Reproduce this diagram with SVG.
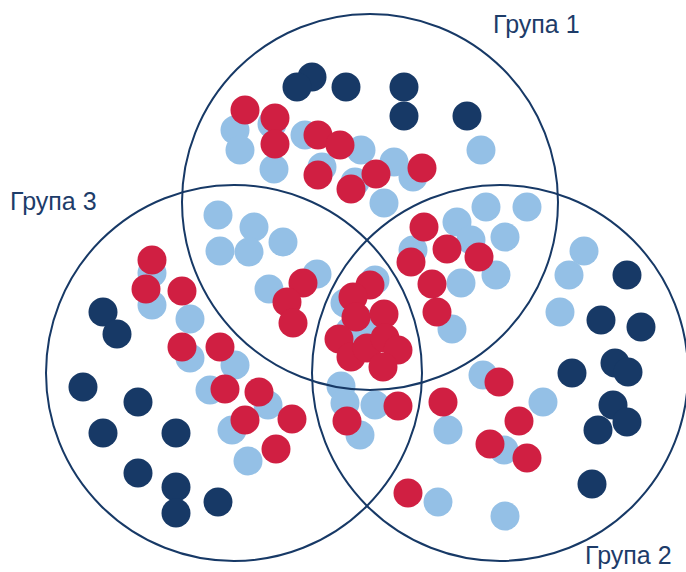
<svg xmlns="http://www.w3.org/2000/svg" width="686" height="572" viewBox="0 0 686 572">
  <style>
    .lb { fill: #94c0e6; }
    .nv { fill: #173966; }
    .rd { fill: #d01f42; }
    .ring { fill: none; stroke: #173966; stroke-width: 2; }
    .label { font-family: "Liberation Sans", Arial, sans-serif; font-size: 25px; fill: #1d3c69; }
  </style>
  <rect width="686" height="572" fill="#ffffff"/>

  <!-- light blue members -->
  <g id="light-dots" class="lb">
    <circle cx="235" cy="130" r="14.5"/><circle cx="240" cy="150" r="14.5"/><circle cx="272" cy="124" r="14.5"/>
    <circle cx="274" cy="169" r="14.5"/><circle cx="305" cy="135" r="14.5"/><circle cx="361" cy="150" r="14.5"/>
    <circle cx="322" cy="167" r="14.5"/><circle cx="394" cy="162" r="14.5"/><circle cx="413" cy="177" r="14.5"/>
    <circle cx="355" cy="182" r="14.5"/><circle cx="384" cy="203" r="14.5"/><circle cx="481" cy="150" r="14.5"/>
    <circle cx="218" cy="215" r="14.5"/><circle cx="254" cy="227" r="14.5"/><circle cx="220" cy="251" r="14.5"/>
    <circle cx="249" cy="252" r="14.5"/><circle cx="283" cy="242" r="14.5"/><circle cx="317" cy="274" r="14.5"/>
    <circle cx="269" cy="289" r="14.5"/>
    <circle cx="486" cy="207" r="14.5"/><circle cx="527" cy="207" r="14.5"/><circle cx="457" cy="222" r="14.5"/>
    <circle cx="471" cy="240" r="14.5"/><circle cx="505" cy="237" r="14.5"/><circle cx="413" cy="250" r="14.5"/>
    <circle cx="461" cy="283" r="14.5"/><circle cx="496" cy="275" r="14.5"/><circle cx="452" cy="329" r="14.5"/>
    <circle cx="584" cy="251" r="14.5"/><circle cx="569" cy="275" r="14.5"/><circle cx="560" cy="312" r="14.5"/>
    <circle cx="375" cy="280" r="14.5"/><circle cx="345" cy="303" r="14.5"/><circle cx="372" cy="324" r="14.5"/>
    <circle cx="350" cy="331" r="14.5"/><circle cx="341" cy="386" r="14.5"/><circle cx="345" cy="403" r="14.5"/>
    <circle cx="375" cy="405" r="14.5"/><circle cx="360" cy="435" r="14.5"/>
    <circle cx="152" cy="273" r="14.5"/><circle cx="152" cy="305" r="14.5"/><circle cx="190" cy="319" r="14.5"/>
    <circle cx="190" cy="358" r="14.5"/><circle cx="235" cy="365" r="14.5"/><circle cx="210" cy="390" r="14.5"/>
    <circle cx="232" cy="430" r="14.5"/><circle cx="268" cy="405" r="14.5"/><circle cx="248" cy="461" r="14.5"/>
    <circle cx="483" cy="375" r="14.5"/><circle cx="543" cy="402" r="14.5"/><circle cx="448" cy="430" r="14.5"/>
    <circle cx="504" cy="450" r="14.5"/><circle cx="438" cy="502" r="14.5"/><circle cx="505" cy="516" r="14.5"/>
  </g>

  <!-- dark blue members -->
  <g id="dark-dots" class="nv">
    <circle cx="312" cy="77" r="14.5"/><circle cx="297" cy="87" r="14.5"/><circle cx="346" cy="87" r="14.5"/>
    <circle cx="404" cy="87" r="14.5"/><circle cx="404" cy="116" r="14.5"/><circle cx="467" cy="116" r="14.5"/>
    <circle cx="103" cy="312" r="14.5"/><circle cx="117" cy="334" r="14.5"/>
    <circle cx="83" cy="387" r="14.5"/><circle cx="138" cy="402" r="14.5"/><circle cx="103" cy="433" r="14.5"/>
    <circle cx="176" cy="433" r="14.5"/><circle cx="138" cy="473" r="14.5"/><circle cx="176" cy="487" r="14.5"/>
    <circle cx="176" cy="513" r="14.5"/><circle cx="218" cy="502" r="14.5"/>
    <circle cx="627" cy="275" r="14.5"/><circle cx="601" cy="320" r="14.5"/><circle cx="641" cy="327" r="14.5"/>
    <circle cx="572" cy="373" r="14.5"/><circle cx="615" cy="363" r="14.5"/><circle cx="628" cy="372" r="14.5"/>
    <circle cx="613" cy="405" r="14.5"/><circle cx="627" cy="422" r="14.5"/><circle cx="598" cy="430" r="14.5"/>
    <circle cx="592" cy="484" r="14.5"/>
  </g>

  <!-- red members -->
  <g id="red-dots" class="rd">
    <circle cx="245" cy="110" r="14.5"/><circle cx="275" cy="118" r="14.5"/><circle cx="275" cy="144" r="14.5"/>
    <circle cx="318" cy="135" r="14.5"/><circle cx="340" cy="145" r="14.5"/><circle cx="318" cy="175" r="14.5"/>
    <circle cx="351" cy="189" r="14.5"/><circle cx="376" cy="174" r="14.5"/><circle cx="422" cy="168" r="14.5"/>
    <circle cx="424" cy="227" r="14.5"/><circle cx="447" cy="249" r="14.5"/><circle cx="479" cy="257" r="14.5"/>
    <circle cx="411" cy="262" r="14.5"/><circle cx="432" cy="284" r="14.5"/><circle cx="437" cy="312" r="14.5"/>
    <circle cx="303" cy="283" r="14.5"/><circle cx="287" cy="302" r="14.5"/><circle cx="293" cy="323" r="14.5"/>
    <circle cx="370" cy="285" r="14.5"/><circle cx="353" cy="297" r="14.5"/><circle cx="356" cy="317" r="14.5"/>
    <circle cx="384" cy="314" r="14.5"/><circle cx="339" cy="339" r="14.5"/><circle cx="351" cy="357" r="14.5"/>
    <circle cx="367" cy="348" r="14.5"/><circle cx="385" cy="338" r="14.5"/><circle cx="398" cy="350" r="14.5"/>
    <circle cx="383" cy="367" r="14.5"/>
    <circle cx="152" cy="260" r="14.5"/><circle cx="146" cy="289" r="14.5"/><circle cx="182" cy="291" r="14.5"/>
    <circle cx="182" cy="347" r="14.5"/><circle cx="220" cy="347" r="14.5"/><circle cx="225" cy="389" r="14.5"/>
    <circle cx="259" cy="392" r="14.5"/><circle cx="245" cy="420" r="14.5"/><circle cx="292" cy="419" r="14.5"/>
    <circle cx="276" cy="449" r="14.5"/>
    <circle cx="398" cy="406" r="14.5"/><circle cx="347" cy="421" r="14.5"/><circle cx="443" cy="402" r="14.5"/>
    <circle cx="499" cy="382" r="14.5"/><circle cx="519" cy="421" r="14.5"/><circle cx="490" cy="444" r="14.5"/>
    <circle cx="527" cy="458" r="14.5"/><circle cx="408" cy="493" r="14.5"/>
  </g>

  <!-- group outlines -->
  <g id="group-1"><circle class="ring" cx="370" cy="202" r="188"/></g>
  <g id="group-2"><circle class="ring" cx="500" cy="373" r="188"/></g>
  <g id="group-3"><circle class="ring" cx="234" cy="373" r="188"/></g>

  <!-- group captions -->
  <text class="label" x="493" y="33">Група 1</text>
  <text class="label" x="10" y="210">Група 3</text>
  <text class="label" x="585" y="564">Група 2</text>
</svg>
